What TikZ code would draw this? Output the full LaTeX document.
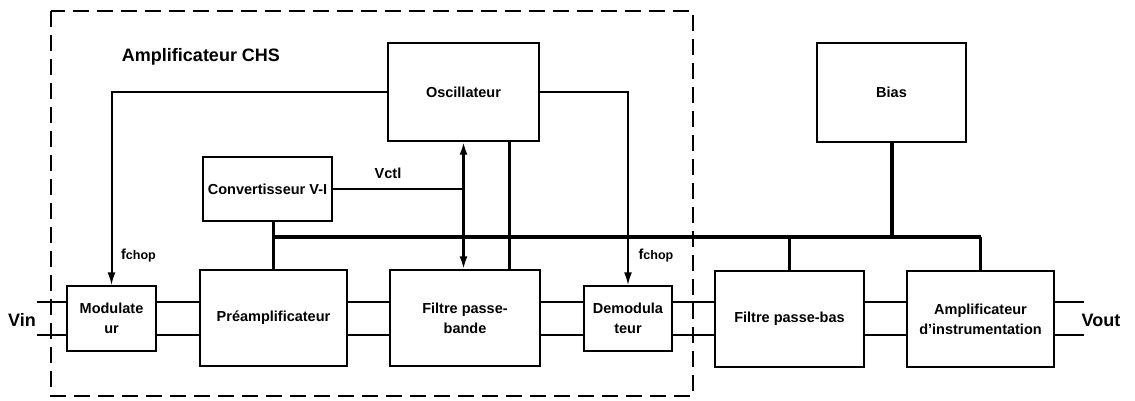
\documentclass[tikz,border=0pt]{standalone}
\usepackage{fontspec}
\setmainfont{Liberation Sans}
\usetikzlibrary{arrows.meta,calc}
\begin{document}
\begin{tikzpicture}[x=1pt,y=-1pt,
  blk/.style={draw,line width=1.4pt,inner sep=0pt,align=center,
    font=\fontsize{14.5}{20}\selectfont\bfseries},
  sig/.style={line width=1.8pt},
  thk/.style={line width=3pt},
  bus/.style={line width=4pt},
  tip/.style={-{Latex[length=13pt,width=8pt]}},
  lbl/.style={inner sep=0pt,font=\fontsize{14.5}{18}\selectfont\bfseries}
]
\useasboundingbox (0,0) rectangle (1135,400);
% dashed enclosure
\draw[line width=1.5pt,dash pattern=on 16pt off 8pt] (51,11) rectangle (693,396);
\node[lbl,font=\fontsize{18}{22}\selectfont\bfseries] (title) at (201,57) {Amplificateur CHS};

% blocks
\node[blk,minimum width=89pt,minimum height=65pt] (mod) at (111.5,318.5) {Modulate\\ur};
\node[blk,minimum width=147pt,minimum height=96pt] (pre) at (273.5,318) {Préamplificateur};
\node[blk,minimum width=150pt,minimum height=96pt] (fpb) at (465,318) {Filtre passe-\\bande};
\node[blk,minimum width=88pt,minimum height=65pt] (dem) at (628,318.5) {Demodula\\teur};
\node[blk,minimum width=149pt,minimum height=96pt] (fbas) at (789.5,319) {Filtre passe-bas};
\node[blk,minimum width=147pt,minimum height=96pt] (ai) at (980.5,319) {Amplificateur\\d'instrumentation};
\node[blk,minimum width=151pt,minimum height=98pt] (osc) at (463.5,92) {Oscillateur};
\node[blk,minimum width=129pt,minimum height=64pt] (conv) at (267.5,189) {Convertisseur V-I};
\node[blk,minimum width=149pt,minimum height=99pt] (bias) at (891.5,92.5) {Bias};

% helper coordinates
\coordinate (ya) at (0,302);
\coordinate (yb) at (0,335);
\coordinate (yb2) at (0,237);
\coordinate (xc) at (273,0);
\coordinate (xo) at (509,0);
\coordinate (vinA) at (37,302);
\coordinate (vinB) at (37,335);
\coordinate (voutA) at (1084,302);
\coordinate (voutB) at (1084,335);

% signal path
\foreach \y in {ya,yb}{
  \draw[sig] (vinA|-\y) -- (mod.west|-\y);
  \draw[sig] (mod.east|-\y) -- (pre.west|-\y);
  \draw[sig] (pre.east|-\y) -- (fpb.west|-\y);
  \draw[sig] (fpb.east|-\y) -- (dem.west|-\y);
  \draw[sig] (dem.east|-\y) -- (fbas.west|-\y);
  \draw[sig] (fbas.east|-\y) -- (ai.west|-\y);
  \draw[sig] (ai.east|-\y) -- (voutA|-\y);
}
\node[lbl,font=\fontsize{18}{22}\selectfont\bfseries] (vin) at (22,320) {Vin};
\node[lbl,font=\fontsize{18}{22}\selectfont\bfseries] (vout) at (1101,320) {Vout};

% oscillator clock lines
\draw[line width=2pt,tip] (osc.west) -| (mod.north);
\draw[line width=2pt,tip] (osc.east) -| (dem.north);
\node[lbl] (fc1) at (138.5,256) {f{\fontsize{12.5}{14}\selectfont chop}};
\node[lbl] (fc2) at (656,256) {f{\fontsize{12.5}{14}\selectfont chop}};

% Vctl and bidirectional arrow
\draw[line width=1.6pt] (conv.east) -- (conv.east -| osc.south);
\node[lbl] (vctl) at (388,173) {Vctl};
\draw[line width=2.5pt,{Latex[length=13pt,width=8pt]}-{Latex[length=13pt,width=8pt]}] (osc.south) -- (osc.south |- fpb.north);
\draw[thk] (xo|-osc.south) -- (xo|-fpb.north);

% bias bus
\draw[thk] (xc|-conv.south) -- (xc|-pre.north);
\draw[bus] (xc|-yb2) -- (ai.north|-yb2);
\draw[thk] (ai.north|-yb2) -- (ai.north);
\draw[bus] (bias.south) -- (bias.south|-yb2);
\draw[thk] (fbas.north|-yb2) -- (fbas.north);
\end{tikzpicture}
\end{document}
